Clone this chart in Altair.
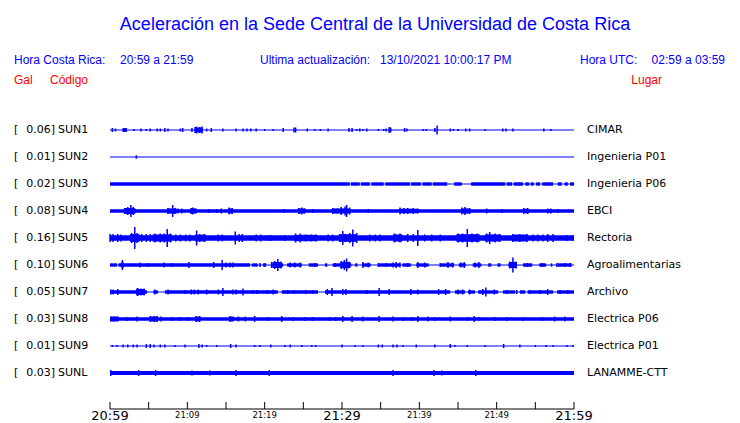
import altair as alt
import pandas as pd

BLUE = "#0000ff"
RED = "#ff0000"

# ---------------- station table ----------------
codes = ["SUN1", "SUN2", "SUN3", "SUN4", "SUN5", "SUN6", "SUN7", "SUN8", "SUN9", "SUNL"]
peaks = ["0.06", "0.01", "0.02", "0.08", "0.16", "0.10", "0.05", "0.03", "0.01", "0.03"]
places = ["CIMAR", "Ingenieria P01", "Ingenieria P06", "EBCI", "Rectoria",
          "Agroalimentarias", "Archivo", "Electrica P06", "Electrica P01", "LANAMME-CTT"]
# half-width of the continuous noise band of each trace (0 = thin line only)
band_amp = [0, 0, 0, 1.8, 2.8, 0, 0, 1.8, 0, 2.0]

window_minutes = [0, 60]
tick_minutes = [0, 5, 10, 15, 20, 25, 30, 35, 40, 45, 50, 55, 60]
label_minutes = [0, 10, 20, 30, 40, 50, 60]
label_text = ["20:59", "21:09", "21:19", "21:29", "21:39", "21:49", "21:59"]
label_big = [True, False, False, True, False, False, True]

# ---------------- spikes (minute, half amplitude) ----------------
SUN1_spk = [(0.3, 2), (0.7, 1.5), (1.8, 2), (2.1, 2), (3.1, 1), (4.0, 1.5), (4.7, 1), (5.2, 1.5),
            (6.1, 1.5), (6.5, 1.5), (7.1, 2), (7.5, 1.5), (9.1, 1.5), (9.4, 2), (10.6, 2), (11.0, 3),
            (11.2, 3.5), (11.6, 3), (11.9, 3.5), (12.5, 1.5), (13.1, 2), (14.6, 1.5), (16.3, 1.5),
            (17.2, 1.5), (17.7, 1.5), (18.2, 1.5), (18.9, 1.5), (20.0, 1), (21.1, 1), (22.4, 2),
            (23.8, 2.5), (24.0, 2.5), (25.5, 1.5), (26.5, 1), (27.2, 1), (28.2, 1.5), (30.9, 2),
            (31.3, 2), (31.9, 1), (32.3, 1.5), (32.7, 1), (33.2, 1.5), (34.7, 1), (35.4, 1),
            (35.7, 1.5), (36.1, 3), (36.3, 2.5), (38.1, 2), (38.4, 1.5), (40.5, 1), (40.9, 1),
            (42.0, 2), (42.3, 4.5), (44.0, 1.5), (44.4, 1), (45.0, 1), (46.0, 1.5), (46.5, 1.5),
            (48.5, 1), (50.8, 1.5), (51.2, 1.5), (52.1, 1.5), (56.1, 1.5), (57.0, 1)]
SUN2_spk = [(3.4, 1.7)]
SUN3_spk = []
SUN4_spk = [(1.9, 3), (2.3, 4), (2.7, 6), (3.0, 4), (3.2, 2.5), (7.5, 3), (8.1, 6), (8.4, 3),
            (8.8, 2.5), (9.3, 2.5), (10.5, 3), (10.7, 3.5), (11.1, 2.5), (12.8, 2), (13.8, 2),
            (14.4, 2.5), (15.4, 3.5), (15.8, 3), (22.5, 2), (24.4, 3), (24.8, 3.5), (25.2, 2.5),
            (26.2, 2), (28.8, 3), (29.4, 2.5), (29.9, 4), (30.4, 4.5), (30.6, 6), (31.0, 3.5),
            (33.4, 2), (37.5, 3.5), (38.0, 3), (38.5, 3), (39.2, 3), (39.8, 2.5), (45.5, 3.5),
            (45.9, 4), (46.5, 3), (48.7, 2.5), (50.7, 2), (53.5, 3), (54.0, 3), (56.6, 2.5),
            (57.0, 2.5), (57.9, 2)]
SUN5_spk = [(0.0, 4), (0.4, 4), (1.0, 4), (1.4, 3.5), (2.8, 5), (3.2, 11), (3.5, 5), (4.1, 4),
            (4.7, 4), (5.2, 4), (5.8, 4.5), (6.5, 4.5), (7.0, 4.5), (7.4, 9), (7.8, 4.5), (8.5, 3.5),
            (9.1, 3.5), (9.8, 3.5), (10.3, 3.5), (11.2, 7.5), (11.6, 4), (12.2, 4), (14.0, 3.5),
            (14.5, 3.5), (16.2, 6.5), (16.7, 4), (17.1, 4), (18.9, 3.5), (19.5, 3.5), (20.4, 3),
            (20.8, 3), (22.6, 3), (24.0, 4.5), (24.6, 4.5), (25.3, 3.5), (26.0, 3.5), (26.6, 3.5),
            (28.2, 3.5), (28.8, 3.5), (29.7, 4), (30.1, 7), (30.4, 4), (31.0, 5), (31.4, 8.5),
            (31.9, 5), (33.6, 3.5), (34.3, 3.5), (34.9, 3.5), (36.8, 4.5), (37.5, 4.5), (38.5, 4),
            (39.2, 4), (39.8, 8), (40.7, 3.5), (41.6, 3.5), (42.7, 3.5), (45.0, 4.5), (45.6, 4.5),
            (46.2, 9), (46.8, 4.5), (47.5, 4.5), (48.7, 4.5), (49.1, 6), (49.8, 4.5), (50.4, 4),
            (52.1, 4), (53.0, 4), (53.9, 4), (54.7, 3.5), (55.3, 3.5), (56.0, 3.5), (56.6, 4),
            (57.3, 4), (59.1, 3), (59.8, 3)]
SUN6_spk = [(1.6, 5), (3.9, 2.5), (4.9, 2), (7.0, 2.5), (8.1, 2), (10.2, 3), (13.4, 3), (14.5, 5),
            (15.0, 2.5), (15.5, 2.5), (15.9, 2.5), (18.4, 1.5), (19.4, 2), (20.0, 1.5), (20.9, 3),
            (21.3, 4), (21.7, 6), (22.1, 3.5), (23.3, 2.5), (23.9, 2.5), (24.6, 2.5), (26.5, 2),
            (29.1, 2), (29.9, 4), (30.3, 5), (30.6, 6.5), (31.0, 3), (32.7, 3), (33.4, 2.5),
            (34.7, 2), (35.7, 2), (36.6, 2.5), (37.0, 3), (37.5, 2.5), (38.5, 2), (39.8, 3),
            (40.7, 2.5), (42.7, 2), (43.7, 3), (44.3, 2.5), (45.4, 2.5), (45.8, 3), (47.2, 2.5),
            (47.7, 3), (51.7, 3.5), (52.1, 7.5), (52.5, 3.5), (53.9, 2), (55.9, 2), (57.8, 2),
            (58.8, 2), (59.5, 2)]
SUN7_spk = [(0.1, 2.5), (0.4, 2.5), (1.0, 3), (3.5, 3.5), (3.6, 4), (4.0, 3.5), (4.4, 3.5),
            (5.8, 2.5), (7.5, 2.5), (9.7, 2), (10.5, 2.5), (10.9, 2.5), (11.4, 2.5), (12.5, 2.5),
            (14.0, 2.5), (14.6, 4), (15.9, 2.5), (16.3, 2.5), (17.2, 3.5), (18.5, 2), (19.0, 2),
            (20.3, 2), (21.1, 2.5), (23.0, 2), (23.8, 2), (25.3, 2), (26.2, 2), (28.1, 3),
            (28.7, 4), (30.1, 3), (30.5, 3), (33.2, 2), (34.8, 4), (36.1, 3), (38.9, 3),
            (39.8, 2.5), (42.5, 3), (43.4, 3), (45.0, 2.5), (45.6, 2.5), (46.5, 2.5), (48.2, 3),
            (48.6, 4.5), (49.7, 2.5), (51.3, 2), (52.6, 2), (54.3, 2), (55.6, 2), (56.6, 3),
            (58.2, 2), (59.2, 2)]
SUN8_spk = [(0.1, 2.5), (0.5, 2.5), (1.0, 2.5), (2.2, 2), (3.5, 2.5), (5.2, 3), (5.7, 3), (6.1, 3),
            (6.6, 2.5), (8.0, 2), (9.1, 2), (10.1, 2), (11.1, 3), (11.6, 3), (15.5, 3), (16.6, 2.5),
            (17.5, 2.5), (18.7, 3), (20.4, 2), (22.2, 3), (23.7, 2), (25.2, 2), (26.2, 2),
            (28.4, 2), (29.2, 2), (30.1, 3), (31.3, 3), (32.7, 2.5), (34.8, 3), (36.6, 2.5),
            (37.9, 2), (39.0, 2), (39.8, 3), (41.1, 2.5), (42.0, 2), (44.0, 2.5), (46.2, 2),
            (47.1, 3), (47.8, 2), (49.8, 2), (51.3, 2), (53.4, 2), (55.9, 2), (57.5, 2.5),
            (58.8, 2.5)]
SUN9_spk = [(0.3, 1), (0.9, 1), (1.7, 1.5), (2.3, 1.5), (3.0, 1.5), (3.5, 1.5), (4.7, 2), (5.2, 2),
            (5.7, 1.5), (6.5, 1.5), (7.1, 1.5), (8.4, 1), (9.7, 1.5), (11.5, 2), (11.9, 1.5),
            (12.5, 1), (13.8, 1), (15.6, 2), (16.3, 1.5), (18.7, 1), (19.4, 1), (20.8, 1.5),
            (22.6, 1), (23.3, 1.5), (24.8, 1), (26.1, 1), (26.6, 1), (30.0, 1.5), (31.7, 1),
            (32.7, 1), (34.7, 1.5), (35.2, 1.5), (36.6, 1.5), (37.1, 1.5), (37.9, 1), (39.6, 1.5),
            (42.0, 1.5), (44.0, 2), (44.6, 1), (46.2, 1), (48.5, 1), (50.9, 2), (53.0, 1.5),
            (55.0, 1), (56.4, 1), (57.3, 1), (59.1, 1), (59.9, 1)]
SUNL_spk = [(0.1, 3), (3.7, 3), (5.9, 3), (10.6, 2.5), (12.9, 2.5), (16.3, 3), (20.6, 3),
            (36.6, 3), (41.9, 3), (42.9, 2.5), (47.3, 3)]

# ---------------- noisy stretches (start minute, end minute, half amplitude) ----------------
SUN1_seg = [(1.6, 2.2, 1.8), (11.0, 12.0, 2.5)]
SUN2_seg = []
SUN3_seg = [(0, 31.0, 1.7), (31.15, 32.3, 1.7), (32.45, 33.6, 1.7), (33.8, 35.4, 1.7),
            (35.6, 38.8, 1.7), (38.95, 40.2, 1.7), (40.4, 41.6, 1.7), (41.75, 43.6, 1.7),
            (44.5, 45.5, 1.7), (46.7, 51.1, 1.7), (51.3, 52.0, 1.7), (52.2, 53.4, 1.7),
            (53.7, 54.2, 1.7), (54.4, 54.8, 1.7), (55.1, 55.6, 1.7), (55.9, 57.3, 1.7),
            (57.9, 58.4, 1.7), (58.8, 59.2, 1.7), (59.5, 60, 1.7)]
SUN4_seg = [(1.8, 3.2, 3.0), (7.4, 8.6, 2.6), (10.4, 11.1, 2.6), (15.3, 15.9, 2.6), (24.3, 25.2, 2.6),
            (28.7, 31.0, 2.6), (37.4, 39.8, 2.3), (45.4, 46.6, 2.6), (53.4, 54.1, 2.3), (56.5, 57.1, 2)]
SUN5_seg = [(2.6, 3.8, 4), (5.5, 8.0, 3.6), (11.0, 12.4, 3.4), (23.8, 26.8, 3.2), (29.6, 31.8, 3.8),
            (36.6, 37.8, 3.6), (44.8, 47.8, 3.8), (48.5, 50.5, 3.6), (52.0, 54.0, 3.4)]
SUN6_seg = [(0, 0.9, 1.7), (1.1, 18.1, 1.7), (18.5, 19.1, 1.7), (19.8, 20.2, 1.7), (21.0, 22.4, 1.7),
            (22.9, 24.8, 1.7), (25.7, 26.9, 1.7), (27.8, 28.1, 1.7), (28.8, 31.2, 1.7),
            (31.7, 32.0, 1.7), (32.7, 33.7, 1.7), (34.7, 37.5, 1.7), (37.8, 38.9, 1.7),
            (39.6, 41.2, 1.7), (42.8, 44.5, 1.7), (45.1, 46.0, 1.7), (46.9, 48.0, 1.7),
            (48.9, 49.3, 1.7), (50.1, 50.5, 1.7), (51.5, 52.6, 1.7), (53.4, 54.6, 1.7),
            (55.5, 56.4, 1.7), (57.0, 57.2, 1.7), (57.9, 59.7, 1.7),
            (21.0, 22.2, 3.0), (29.8, 31.0, 3.2), (51.6, 52.6, 3.0), (1.4, 1.8, 2.6)]
SUN7_seg = [(0, 4.8, 1.7), (5.6, 6.2, 1.7), (7.1, 21.7, 1.7), (22.2, 26.9, 1.7), (27.8, 44.0, 1.7),
            (44.6, 45.9, 1.7), (46.3, 47.2, 1.7), (47.6, 50.2, 1.7), (50.8, 52.4, 1.7),
            (53.0, 53.7, 1.7), (54.0, 57.3, 1.7), (57.8, 60, 1.7), (3.4, 4.5, 3.0)]
SUN8_seg = [(0.1, 1.0, 2.5), (5.2, 6.1, 2.5), (11.1, 11.6, 2.5), (15.5, 16.0, 2.5)]
SUN9_seg = []
SUNL_seg = []

spikes = [SUN1_spk, SUN2_spk, SUN3_spk, SUN4_spk, SUN5_spk, SUN6_spk, SUN7_spk, SUN8_spk, SUN9_spk, SUNL_spk]
segments = [SUN1_seg, SUN2_seg, SUN3_seg, SUN4_seg, SUN5_seg, SUN6_seg, SUN7_seg, SUN8_seg, SUN9_seg, SUNL_seg]

ROW_UNIT = 27.0  # amplitude units per row spacing

# ---------------- tables ----------------
rows_df = pd.DataFrame({
    "row": list(range(len(codes))),
    "code": codes,
    "peak": [p + "]" for p in peaks],
    "place": places,
    "t0": window_minutes[0],
    "t1": window_minutes[1],
})

seg_recs = []
for i, amp in enumerate(band_amp):
    if amp > 0:
        seg_recs.append({"t0": window_minutes[0], "t1": window_minutes[1],
                         "lo": i - amp / ROW_UNIT, "hi": i + amp / ROW_UNIT})
for i, segs in enumerate(segments):
    for (a, b, amp) in segs:
        seg_recs.append({"t0": a, "t1": b, "lo": i - amp / ROW_UNIT, "hi": i + amp / ROW_UNIT})
seg_df = pd.DataFrame(seg_recs)

spk_recs = []
for i, spk in enumerate(spikes):
    for (t, amp) in spk:
        spk_recs.append({"t": t, "lo": i - amp / ROW_UNIT, "hi": i + amp / ROW_UNIT})
spk_df = pd.DataFrame(spk_recs)

ticks_df = pd.DataFrame({"t": tick_minutes})
labels_df = pd.DataFrame({"t": label_minutes, "label": label_text, "big": label_big})

xs = alt.Scale(domain=window_minutes, range=[102, 566], zero=False, nice=False)
ys = alt.Scale(domain=[0, 9], range=[122, 365], zero=False, nice=False)

X = lambda f: alt.X(f, type="quantitative", scale=xs, axis=None)
Y = lambda f: alt.Y(f, type="quantitative", scale=ys, axis=None)

base_line = alt.Chart(rows_df).mark_rule(color=BLUE, strokeWidth=1.2).encode(
    x=X("t0"), x2="t1", y=Y("row"))
bands = alt.Chart(seg_df).mark_rect(color=BLUE).encode(
    x=X("t0"), x2="t1", y=Y("lo"), y2="hi")
spk = alt.Chart(spk_df).mark_rule(color=BLUE, strokeWidth=1.5).encode(
    x=X("t"), y=Y("lo"), y2="hi")

lab_font = "DejaVu Sans"
bracket = alt.Chart(rows_df).mark_text(align="left", baseline="middle", font=lab_font,
                                       fontSize=11, color="black", text="[").encode(
    x=alt.value(6), y=Y("row"))
peak_txt = alt.Chart(rows_df).mark_text(align="right", baseline="middle", font=lab_font,
                                        fontSize=11, color="black").encode(
    x=alt.value(47), y=Y("row"), text="peak:N")
code_txt = alt.Chart(rows_df).mark_text(align="left", baseline="middle", font=lab_font,
                                        fontSize=11, color="black").encode(
    x=alt.value(50), y=Y("row"), text="code:N")
place_txt = alt.Chart(rows_df).mark_text(align="left", baseline="middle", font=lab_font,
                                         fontSize=11, color="black").encode(
    x=alt.value(579), y=Y("row"), text="place:N")

# time axis
axis_line = alt.Chart(rows_df.head(1)).mark_rule(color="black", strokeWidth=1).encode(
    x=X("t0"), x2="t1", y=alt.value(401))
axis_ticks = alt.Chart(ticks_df).mark_rule(color="black", strokeWidth=1).encode(
    x=X("t"), y=alt.value(394), y2=alt.value(401))
big_lab = alt.Chart(labels_df).transform_filter("datum.big").mark_text(
    align="center", baseline="alphabetic", font=lab_font, fontSize=13, color="black").encode(
    x=X("t"), y=alt.value(412), text="label:N")
small_lab = alt.Chart(labels_df).transform_filter("!datum.big").mark_text(
    align="center", baseline="alphabetic", font=lab_font, fontSize=8.5, color="black").encode(
    x=X("t"), y=alt.value(410), text="label:N")

one = pd.DataFrame({"a": [0]})


def txt(s, x, y, size=12, color=BLUE, align="left"):
    return alt.Chart(one).mark_text(text=s, align=align, baseline="alphabetic",
                                    font="Liberation Sans", fontSize=size, color=color).encode(
        x=alt.value(x), y=alt.value(y))


header = [
    txt("Aceleración en la Sede Central de la Universidad de Costa Rica", 367, 22, size=18, align="center"),
    txt("Hora Costa Rica:", 6, 56),
    txt("20:59 a 21:59", 112, 56),
    txt("Ultima actualización:", 252, 56),
    txt("13/10/2021 10:00:17 PM", 372, 56),
    txt("Hora UTC:", 572, 56),
    txt("02:59 a 03:59", 717, 56, align="right"),
    txt("Gal", 6, 76, color=RED),
    txt("Código", 42, 76, color=RED),
    txt("Lugar", 654, 76, color=RED, align="right"),
]

chart = alt.layer(
    base_line, bands, spk, bracket, peak_txt, code_txt, place_txt,
    axis_line, axis_ticks, big_lab, small_lab, *header
).properties(
    width=720, height=415,
    autosize=alt.AutoSizeParams(type="none"),
    padding=0,
    background="white",
).configure_view(stroke=None)

chart.save("out.html", embed_options={"renderer": "svg", "actions": False})
